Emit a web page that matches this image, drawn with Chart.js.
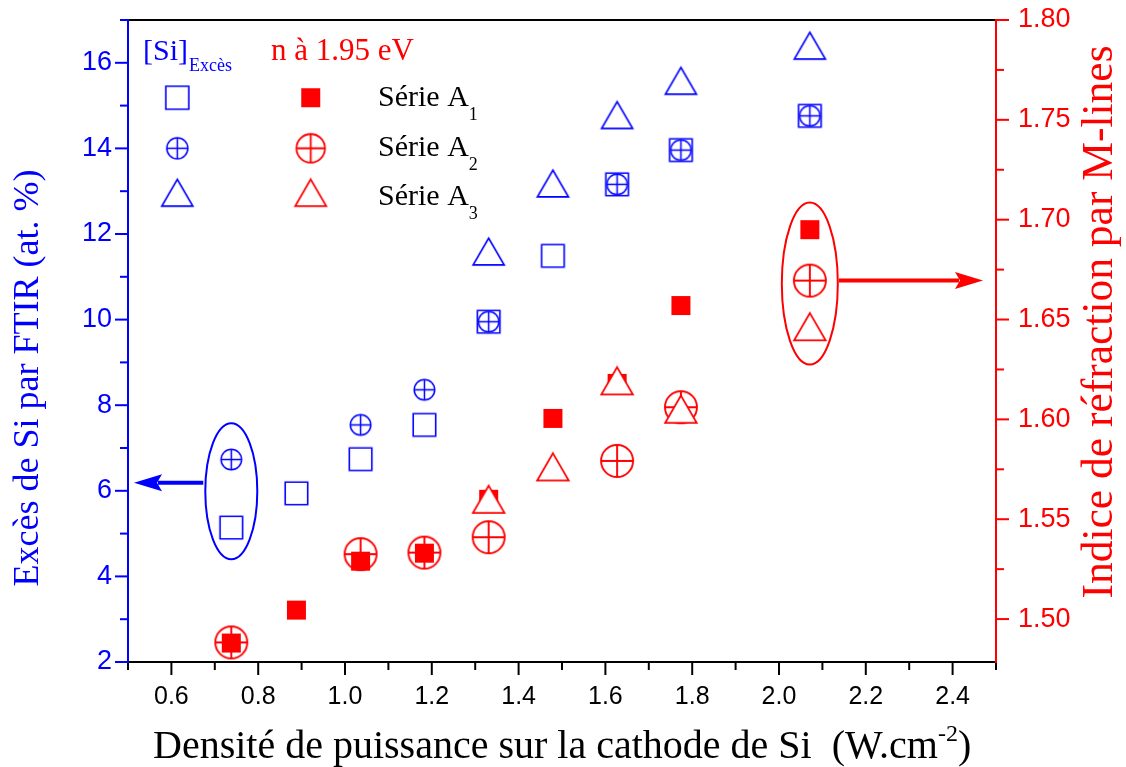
<!DOCTYPE html>
<html><head><meta charset="utf-8">
<script src="https://cdn.jsdelivr.net/npm/chart.js@4.4.1/dist/chart.umd.min.js"></script>
<style>html,body{margin:0;padding:0;background:#fff;}</style>
</head><body>
<canvas id="c" width="1126" height="767"></canvas>
<script>
// ---------- data ----------
const xA1 = [0.738, 0.888, 1.036, 1.183, 1.331, 1.479, 1.627, 1.774, 2.071];
const xA2 = [0.738, 1.036, 1.183, 1.331, 1.627, 1.774, 2.071];
const xA3 = [1.331, 1.479, 1.627, 1.774, 2.071];
const siA1 = [5.14, 5.94, 6.74, 7.54, 9.95, 11.49, 13.16, 13.96, 14.76];
const siA2 = [6.73, 7.54, 8.36, 9.95, 13.16, 13.96, 14.76];
const siA3 = [11.59, 13.18, 14.78, 15.58, 16.40];
const nA1 = [1.488, 1.5045, 1.529, 1.533, 1.560, 1.6005, 1.618, 1.657, 1.695];
const nA2 = [1.4883, 1.5325, 1.5333, 1.541, 1.5792, 1.6061, 1.6695];
const nA3 = [1.5600, 1.5762, 1.6193, 1.6051, 1.6464];
const xTickLabels = [0.6, 0.8, 1.0, 1.2, 1.4, 1.6, 1.8, 2.0, 2.2, 2.4];
const siTickLabels = [2, 4, 6, 8, 10, 12, 14, 16];
const nTickLabels = [1.50, 1.55, 1.60, 1.65, 1.70, 1.75, 1.80];
const seriesNames = ['Série A', 'Série A', 'Série A'];
const seriesSubs = ['1', '2', '3'];

const BLUE = '#0000ff', RED = '#ff0000';
const SERIF = '"Liberation Serif", "Times New Roman", serif';
const SANS = '"Liberation Sans", Arial, sans-serif';

// ---------- marker images ----------
function mk(shape, color, size, lw, filled) {
  const pad = 4;
  const w = size, h = shape === 'tri' ? size * 0.866 : size;
  const c = document.createElement('canvas');
  c.width = Math.round(w + 2 * pad); c.height = Math.round(h + 2 * pad);
  const g = c.getContext('2d');
  const cx = c.width / 2, cy = c.height / 2;
  g.lineWidth = lw; g.strokeStyle = color; g.fillStyle = filled ? color : '#ffffff';
  g.beginPath();
  if (shape === 'sq') g.rect(cx - w / 2, cy - h / 2, w, h);
  else if (shape === 'tri') { g.moveTo(cx, cy - h / 2); g.lineTo(cx + w / 2, cy + h / 2); g.lineTo(cx - w / 2, cy + h / 2); g.closePath(); }
  else g.arc(cx, cy, w / 2, 0, Math.PI * 2);
  g.fill(); if (!filled) g.stroke();
  if (shape === 'cp') {
    g.beginPath();
    g.moveTo(cx - w / 2, cy); g.lineTo(cx + w / 2, cy);
    g.moveTo(cx, cy - w / 2); g.lineTo(cx, cy + w / 2);
    g.stroke();
  }
  return c;
}
const M = {
  bSq: mk('sq', BLUE, 22.5, 1.6, false),
  bCp: mk('cp', BLUE, 20.5, 1.5, false),
  bTri: mk('tri', BLUE, 31, 1.7, false),
  rSq: mk('sq', RED, 19, 0, true),
  rCp: mk('cp', RED, 32, 1.9, false),
  rTri: mk('tri', RED, 31.5, 1.8, false),
  lbSq: mk('sq', BLUE, 23, 1.6, false),
  lbCp: mk('cp', BLUE, 21, 1.5, false),
  lbTri: mk('tri', BLUE, 31, 1.7, false),
  lrSq: mk('sq', RED, 19, 0, true),
  lrCp: mk('cp', RED, 28.5, 1.8, false),
  lrTri: mk('tri', RED, 31, 1.8, false)
};

function pts(xs, ys) { return xs.map((x, i) => ({ x: x, y: ys[i] })); }
function ds(data, axis, img, order) {
  return { data: data, yAxisID: axis, showLine: false, pointStyle: img, pointRadius: 10,
           pointHoverRadius: 10, order: order, borderColor: 'transparent', backgroundColor: 'transparent' };
}

// ---------- annotations (positions in data units) ----------
const ellipses = [
  { axis: 'y', x: 0.738, y: 5.99, rx: 26, ry: 68, color: BLUE },
  { axis: 'y1', x: 2.071, y: 1.668, rx: 28, ry: 81, color: RED }
];

// ---------- plugin ----------
function richText(ctx, parts, x, y) {
  let cx = x;
  for (const p of parts) {
    ctx.font = p.size + 'px ' + SERIF;
    ctx.fillStyle = p.color;
    ctx.fillText(p.t, cx, y + (p.dy || 0));
    cx += ctx.measureText(p.t).width;
  }
  return cx;
}
function arrow(ctx, x1, y, x2, color) {
  const dir = x2 > x1 ? 1 : -1, L = 28, hw = 8.5;
  ctx.strokeStyle = color; ctx.fillStyle = color; ctx.lineWidth = 4; ctx.lineCap = 'butt';
  ctx.beginPath(); ctx.moveTo(x1, y); ctx.lineTo(x2 - dir * (L - 4), y); ctx.stroke();
  ctx.beginPath();
  ctx.moveTo(x2, y);
  ctx.lineTo(x2 - dir * L, y - hw);
  ctx.lineTo(x2 - dir * (L - 5), y);
  ctx.lineTo(x2 - dir * L, y + hw);
  ctx.closePath(); ctx.fill();
}

const deco = {
  id: 'deco',
  beforeDatasetsDraw(chart) {
    const { ctx, chartArea: a, scales } = chart;
    const xs = scales.x, ys = scales.y, ns = scales.y1;
    ctx.save();
    ctx.lineWidth = 2;
    ctx.strokeStyle = '#000';
    ctx.beginPath(); ctx.moveTo(a.left, a.top); ctx.lineTo(a.right, a.top); ctx.stroke();
    ctx.beginPath(); ctx.moveTo(a.left - 1, a.bottom); ctx.lineTo(a.right + 1, a.bottom); ctx.stroke();
    for (let k = 5; k <= 25; k++) {
      const v = k / 10, px = xs.getPixelForValue(v);
      const len = (k % 2 === 0 && k >= 6 && k <= 24) ? 13 : 8;
      ctx.beginPath(); ctx.moveTo(px, a.bottom); ctx.lineTo(px, a.bottom + len); ctx.stroke();
    }
    ctx.strokeStyle = BLUE;
    ctx.beginPath(); ctx.moveTo(a.left, a.top - 1); ctx.lineTo(a.left, a.bottom + 1); ctx.stroke();
    for (let v = 2; v <= 17; v++) {
      const py = ys.getPixelForValue(v), len = v % 2 === 0 ? 13 : 8;
      ctx.beginPath(); ctx.moveTo(a.left, py); ctx.lineTo(a.left - len, py); ctx.stroke();
    }
    ctx.strokeStyle = RED;
    ctx.beginPath(); ctx.moveTo(a.right, a.top - 1); ctx.lineTo(a.right, a.bottom + 1); ctx.stroke();
    for (let k = 0; k <= 12; k++) {
      const v = 1.50 + k * 0.025, py = ns.getPixelForValue(v), len = k % 2 === 0 ? 13 : 8;
      ctx.beginPath(); ctx.moveTo(a.right, py); ctx.lineTo(a.right + len, py); ctx.stroke();
    }
    ctx.restore();
  },
  afterDatasetsDraw(chart) {
    const { ctx, chartArea: a, scales } = chart;
    ctx.save();
    for (const e of ellipses) {
      const cx = scales.x.getPixelForValue(e.x), cy = scales[e.axis].getPixelForValue(e.y);
      ctx.strokeStyle = e.color; ctx.lineWidth = 2;
      ctx.beginPath(); ctx.ellipse(cx, cy, e.rx, e.ry, 0, 0, Math.PI * 2); ctx.stroke();
    }
    {
      const e = ellipses[0];
      const cx = scales.x.getPixelForValue(e.x);
      arrow(ctx, cx - e.rx - 2, scales.y.getPixelForValue(6.19), a.left + 6, BLUE);
      const f = ellipses[1];
      const fx = scales.x.getPixelForValue(f.x);
      arrow(ctx, fx + f.rx + 1, scales.y1.getPixelForValue(1.6695), a.right - 13, RED);
    }
    ctx.textBaseline = 'alphabetic'; ctx.textAlign = 'left';
    richText(ctx, [{ t: '[Si]', size: 30, color: BLUE }], 143, 60);
    richText(ctx, [{ t: 'Excès', size: 18, color: BLUE }], 189, 71);
    richText(ctx, [{ t: 'n à 1.95 eV', size: 31, color: RED }], 271, 59.5);
    const rowsY = [97.7, 148.3, 192.7];
    const baseY = [106, 156, 205];
    const lb = [M.lbSq, M.lbCp, M.lbTri], lr = [M.lrSq, M.lrCp, M.lrTri];
    for (let i = 0; i < 3; i++) {
      ctx.drawImage(lb[i], 177.3 - lb[i].width / 2, rowsY[i] - lb[i].height / 2);
      ctx.drawImage(lr[i], 310.7 - lr[i].width / 2, rowsY[i] - lr[i].height / 2);
      richText(ctx, [{ t: seriesNames[i], size: 30, color: '#000' }, { t: seriesSubs[i], size: 18, color: '#000', dy: 14 }], 378, baseY[i]);
    }
    ctx.textAlign = 'center';
    ctx.font = '36px ' + SERIF;
    ctx.fillStyle = BLUE;
    ctx.save(); ctx.translate(38, 378); ctx.rotate(-Math.PI / 2);
    ctx.fillText('Excès de Si par FTIR (at. %)', 0, 0); ctx.restore();
    ctx.font = '43.5px ' + SERIF;
    ctx.fillStyle = RED;
    ctx.save(); ctx.translate(1112, 322); ctx.rotate(-Math.PI / 2);
    ctx.fillText('Indice de réfraction par M-lines', 0, 0); ctx.restore();
    ctx.textAlign = 'left';
    richText(ctx, [
      { t: 'Densité de puissance sur la cathode de Si  (W.cm', size: 40, color: '#000' },
      { t: '-2', size: 24, color: '#000', dy: -17 },
      { t: ')', size: 40, color: '#000' }
    ], 153, 758);
    ctx.restore();
  }
};

function noPad(s) { s.paddingTop = 0; s.paddingBottom = 0; s.paddingLeft = 0; s.paddingRight = 0; }

// ---------- chart ----------
new Chart(document.getElementById('c'), {
  type: 'scatter',
  data: {
    datasets: [
      ds(pts(xA1, siA1), 'y', M.bSq, 6),
      ds(pts(xA2, siA2), 'y', M.bCp, 5),
      ds(pts(xA3, siA3), 'y', M.bTri, 4),
      ds(pts(xA2, nA2), 'y1', M.rCp, 3),
      ds(pts(xA1, nA1), 'y1', M.rSq, 2),
      ds(pts(xA3, nA3), 'y1', M.rTri, 1)
    ]
  },
  options: {
    responsive: false, animation: false, devicePixelRatio: 1,
    layout: { padding: { top: 20, left: 0, right: 0, bottom: 0 } },
    plugins: { legend: { display: false }, tooltip: { enabled: false } },
    scales: {
      x: {
        type: 'linear', position: 'bottom', min: 0.5, max: 2.5,
        grid: { display: false, drawTicks: false }, border: { display: false },
        afterBuildTicks: s => { s.ticks = xTickLabels.map(v => ({ value: v })); },
        afterFit: s => { s.height = 105; noPad(s); },
        ticks: { autoSkip: false, maxRotation: 0, padding: 20, color: '#000',
                 font: { family: SANS, size: 25 }, callback: v => Number(v).toFixed(1) }
      },
      y: {
        type: 'linear', position: 'left', min: 2, max: 17,
        grid: { display: false, drawTicks: false }, border: { display: false },
        afterBuildTicks: s => { s.ticks = siTickLabels.map(v => ({ value: v })); },
        afterFit: s => { s.width = 128; noPad(s); },
        ticks: { autoSkip: false, padding: 16, color: BLUE,
                 font: { family: SANS, size: 27 }, callback: v => String(Math.round(v)) }
      },
      y1: {
        type: 'linear', position: 'right', min: 1.4785, max: 1.80,
        grid: { display: false, drawTicks: false }, border: { display: false },
        afterBuildTicks: s => { s.ticks = nTickLabels.map(v => ({ value: v })); },
        afterFit: s => { s.width = 130; noPad(s); },
        ticks: { autoSkip: false, padding: 22, color: RED,
                 font: { family: SANS, size: 27 }, callback: v => Number(v).toFixed(2) }
      }
    }
  },
  plugins: [deco]
});
</script>
</body></html>
